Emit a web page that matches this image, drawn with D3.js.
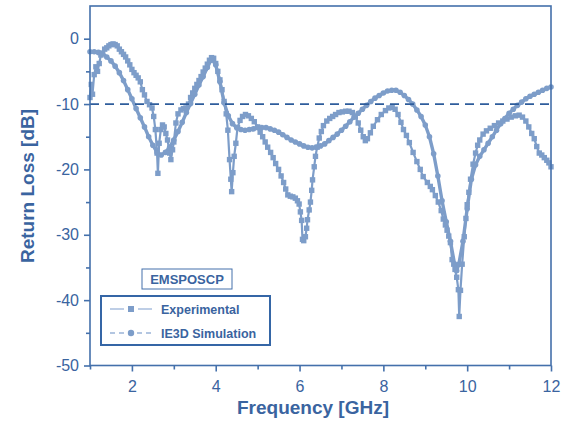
<!DOCTYPE html>
<html>
<head>
<meta charset="utf-8">
<script src="https://cdn.jsdelivr.net/npm/d3@7"></script>
<style>
body { margin: 0; background: #fff; }
text { font-family: "Liberation Sans", Arial, sans-serif; }
</style>
</head>
<body>
<div id="chart"></div>
<script>
// IE3D simulation (circles)
const freqSim = [1.0,1.1,1.2,1.3,1.4,1.5,1.6,1.7,1.8,1.9,2.0,2.1,2.2,2.3,2.4,2.5,2.6,2.7,2.8,2.9,
  3.0,3.1,3.2,3.3,3.4,3.5,3.6,3.7,3.8,3.9,4.0,4.1,4.2,4.3,4.4,4.5,4.6,4.7,4.8,4.9,
  5.0,5.1,5.2,5.3,5.4,5.5,5.6,5.7,5.8,5.9,6.0,6.1,6.2,6.3,6.4,6.5,6.6,6.7,6.8,6.9,
  7.0,7.1,7.2,7.3,7.4,7.5,7.6,7.7,7.8,7.9,8.0,8.1,8.2,8.3,8.4,8.5,8.6,8.7,8.8,8.9,
  9.0,9.1,9.2,9.3,9.4,9.5,9.6,9.7,9.75,9.8,9.9,10.0,10.1,10.2,10.3,10.4,10.5,10.6,10.7,10.8,
  10.9,11.0,11.1,11.2,11.3,11.4,11.5,11.6,11.7,11.8,11.9,12.0];
const lossSim = [-2.0,-2.0,-2.1,-2.3,-2.8,-3.4,-4.2,-5.2,-6.4,-7.8,-9.2,-10.7,-12.1,-13.5,-15.0,-16.3,-17.4,-17.8,-17.4,-16.6,
  -15.5,-14.2,-12.8,-11.3,-9.9,-8.5,-7.1,-5.8,-4.4,-3.1,-4.0,-6.6,-9.8,-11.8,-13.0,-13.6,-13.9,-14.0,-13.9,-13.8,
  -13.6,-13.6,-13.6,-13.8,-14.0,-14.3,-14.7,-15.1,-15.5,-15.8,-16.1,-16.4,-16.6,-16.7,-16.6,-16.4,-16.1,-15.6,-15.1,-14.6,
  -14.0,-13.4,-12.7,-12.0,-11.4,-10.8,-10.2,-9.6,-9.1,-8.7,-8.3,-8.0,-7.9,-7.9,-8.2,-8.7,-9.3,-10.0,-10.9,-11.9,
  -13.2,-15.0,-17.6,-21.0,-24.8,-28.0,-31.0,-34.5,-35.5,-34.5,-31.0,-26.0,-21.5,-19.3,-18.0,-17.0,-16.0,-15.0,-14.0,-13.0,
  -12.2,-11.4,-10.8,-10.2,-9.7,-9.2,-8.8,-8.5,-8.2,-7.9,-7.6,-7.4];

// Experimental (squares)
const freqExp = [1.0,1.03,1.06,1.1,1.14,1.18,1.22,1.26,1.3,1.35,1.4,1.45,1.5,1.55,1.6,1.65,1.7,1.75,1.8,1.85,
  1.9,1.95,2.0,2.05,2.1,2.15,2.2,2.25,2.3,2.36,2.42,2.48,2.52,2.56,2.6,2.62,2.65,2.69,2.73,2.77,
  2.81,2.85,2.9,2.93,2.97,3.0,3.05,3.1,3.17,3.23,3.29,3.35,3.4,3.45,3.5,3.55,3.6,3.65,3.7,3.75,
  3.8,3.85,3.9,3.95,4.0,4.05,4.1,4.15,4.2,4.25,4.29,4.33,4.36,4.38,4.41,4.44,4.48,4.52,4.58,4.64,
  4.71,4.78,4.85,4.92,5.0,5.06,5.12,5.18,5.24,5.31,5.37,5.43,5.5,5.56,5.62,5.67,5.72,5.78,5.84,5.9,
  5.95,5.99,6.02,6.05,6.07,6.1,6.14,6.17,6.19,6.23,6.26,6.29,6.31,6.35,6.38,6.42,6.47,6.52,6.57,6.65,
  6.72,6.79,6.86,6.94,7.02,7.1,7.18,7.26,7.33,7.4,7.46,7.52,7.57,7.62,7.69,7.76,7.86,7.95,8.05,8.13,
  8.21,8.28,8.35,8.42,8.48,8.55,8.62,8.71,8.8,8.88,8.95,9.05,9.12,9.17,9.24,9.31,9.38,9.43,9.48,9.52,
  9.56,9.6,9.64,9.68,9.71,9.75,9.79,9.81,9.84,9.88,9.93,9.97,10.0,10.04,10.08,10.14,10.2,10.25,10.3,10.38,
  10.46,10.55,10.65,10.75,10.85,10.95,11.05,11.15,11.24,11.32,11.4,11.47,11.54,11.6,11.66,11.72,11.78,11.84,11.9,11.95,
  12.0];
const lossExp = [-9.0,-7.0,-8.5,-5.5,-4.3,-5.0,-3.8,-2.5,-2.2,-1.6,-1.4,-1.1,-0.9,-0.8,-0.9,-1.1,-1.6,-2.0,-2.4,-2.8,
  -3.4,-4.0,-4.7,-5.2,-5.6,-6.0,-6.6,-7.8,-8.6,-9.6,-10.1,-10.6,-11.9,-13.9,-17.5,-20.6,-16.0,-13.9,-13.2,-13.5,
  -14.5,-15.5,-17.5,-18.5,-17.0,-15.8,-12.9,-11.5,-10.9,-10.7,-10.6,-10.0,-9.0,-8.3,-7.6,-7.0,-6.4,-5.8,-5.1,-4.5,
  -3.9,-3.3,-2.9,-3.0,-3.8,-5.0,-6.3,-7.8,-9.6,-11.5,-14.0,-18.5,-21.5,-23.4,-20.5,-18.0,-16.0,-13.6,-12.5,-11.9,
  -11.6,-11.8,-12.2,-12.7,-13.5,-14.3,-15.0,-15.8,-16.6,-17.4,-18.2,-19.1,-20.0,-21.0,-22.0,-23.0,-23.9,-24.1,-24.2,-24.4,
  -24.8,-25.3,-26.5,-27.8,-30.7,-30.9,-30.3,-29.0,-27.7,-26.2,-25.0,-23.2,-21.6,-19.6,-18.0,-16.6,-15.2,-14.2,-13.3,-12.6,
  -12.2,-11.9,-11.6,-11.3,-11.2,-11.1,-11.1,-11.3,-11.9,-12.9,-14.0,-15.0,-15.6,-15.3,-14.4,-13.4,-12.4,-11.6,-11.0,-10.6,
  -10.5,-10.8,-11.6,-12.8,-13.9,-14.8,-15.9,-17.4,-18.8,-20.0,-21.1,-22.0,-22.6,-23.1,-24.0,-25.0,-26.3,-27.6,-28.5,-29.3,
  -30.2,-31.2,-33.8,-34.5,-35.3,-36.5,-38.4,-42.5,-38.5,-34.5,-30.3,-27.5,-25.4,-23.5,-21.5,-19.2,-17.5,-16.3,-15.5,-14.6,
  -14.1,-13.7,-13.3,-12.9,-12.6,-12.3,-12.0,-11.8,-11.7,-12.0,-12.6,-13.5,-14.5,-15.3,-16.5,-17.5,-17.8,-18.2,-18.6,-19.0,
  -19.6];

const xTicks = [2, 4, 6, 8, 10, 12];
const xMinor = [1, 3, 5, 7, 9, 11];
const yTicks = [0, -10, -20, -30, -40, -50];
const yMinor = [-5, -15, -25, -35, -45];
const refLevel = -10;
const legendTitle = 'EMSPOSCP';
const seriesNames = ['Experimental', 'IE3D Simulation'];

const width = 567, height = 421;
const axisColor = '#4470ab';
const textColor = '#3a64a0';
const curveColor = '#7d9dc9';

const x = d3.scaleLinear().domain([1, 12]).range([90, 551]);
const y = d3.scaleLinear().domain([-50, 5]).range([365.5, 6]);

const svg = d3.select('#chart').append('svg')
  .attr('width', width)
  .attr('height', height);

const sim = freqSim.map((f, i) => [f, lossSim[i]]);
const exp = freqExp.map((f, i) => [f, lossExp[i]]);

const line = d3.line().x(d => x(d[0])).y(d => y(d[1]));

const curves = svg.append('g');

// simulation: dense circles
curves.append('path')
  .datum(sim)
  .attr('d', line)
  .attr('fill', 'none')
  .attr('stroke', curveColor)
  .attr('stroke-width', 3.4)
  .attr('stroke-linejoin', 'round');

curves.selectAll('.sim')
  .data(sim)
  .enter()
  .append('circle')
  .attr('class', 'sim')
  .attr('cx', d => x(d[0]))
  .attr('cy', d => y(d[1]))
  .attr('r', 2.8)
  .attr('fill', curveColor);

// experimental: squares + line
curves.append('path')
  .datum(exp)
  .attr('d', line)
  .attr('fill', 'none')
  .attr('stroke', curveColor)
  .attr('stroke-width', 2.2)
  .attr('stroke-linejoin', 'round');

curves.selectAll('.exp')
  .data(exp)
  .enter()
  .append('rect')
  .attr('class', 'exp')
  .attr('x', d => x(d[0]) - 2.7)
  .attr('y', d => y(d[1]) - 2.7)
  .attr('width', 5.4)
  .attr('height', 5.4)
  .attr('fill', curveColor);

// -10 dB reference line
svg.append('line')
  .attr('x1', x(1)).attr('x2', x(12))
  .attr('y1', y(refLevel)).attr('y2', y(refLevel))
  .attr('stroke', '#2f5d9c')
  .attr('stroke-width', 1.8)
  .attr('stroke-dasharray', '9,6');

// frame
svg.append('rect')
  .attr('x', x(1)).attr('y', y(5))
  .attr('width', x(12) - x(1))
  .attr('height', y(-50) - y(5))
  .attr('fill', 'none')
  .attr('stroke', axisColor)
  .attr('stroke-width', 1.6);

// axes
const fmt = d => String(d);

const xAxis = svg.append('g')
  .attr('transform', `translate(0,${y(-50)})`)
  .call(d3.axisBottom(x).tickValues(xTicks).tickSize(6).tickPadding(5).tickFormat(fmt));

const xAxisMinor = svg.append('g')
  .attr('transform', `translate(0,${y(-50)})`)
  .call(d3.axisBottom(x).tickValues(xMinor).tickSize(4).tickFormat(''));

const yAxis = svg.append('g')
  .attr('transform', `translate(${x(1)},0)`)
  .call(d3.axisLeft(y).tickValues(yTicks).tickSize(6).tickPadding(5).tickFormat(fmt));

const yAxisMinor = svg.append('g')
  .attr('transform', `translate(${x(1)},0)`)
  .call(d3.axisLeft(y).tickValues(yMinor).tickSize(4).tickFormat(''));

[xAxis, xAxisMinor, yAxis, yAxisMinor].forEach(g => {
  g.select('.domain').remove();
  g.selectAll('line').attr('stroke', axisColor).attr('stroke-width', 1.6);
  g.selectAll('text')
    .attr('fill', textColor)
    .style('font-size', '16px')
    .style('font-family', '"Liberation Sans", Arial, sans-serif');
});
xAxis.selectAll('text').attr('dy', '0.95em');

// axis titles
svg.append('text')
  .attr('x', 313).attr('y', 414)
  .attr('text-anchor', 'middle')
  .attr('fill', textColor)
  .style('font-size', '19px')
  .style('font-weight', 'bold')
  .text('Frequency [GHz]');

svg.append('text')
  .attr('transform', 'translate(34,186) rotate(-90)')
  .attr('text-anchor', 'middle')
  .attr('fill', textColor)
  .style('font-size', '19px')
  .style('font-weight', 'bold')
  .text('Return Loss [dB]');

// legend
svg.append('rect')
  .attr('x', 142).attr('y', 269)
  .attr('width', 90).attr('height', 20)
  .attr('fill', '#fff')
  .attr('stroke', axisColor)
  .attr('stroke-width', 1);

svg.append('text')
  .attr('x', 187).attr('y', 284)
  .attr('text-anchor', 'middle')
  .attr('fill', textColor)
  .style('font-size', '13px')
  .style('font-weight', 'bold')
  .text(legendTitle);

const legend = svg.append('g');

legend.append('rect')
  .attr('x', 101).attr('y', 296)
  .attr('width', 169).attr('height', 49)
  .attr('fill', '#fff')
  .attr('stroke', '#3566a6')
  .attr('stroke-width', 2);

seriesNames.forEach((name, i) => {
  const ly = 309 + i * 24;
  if (i === 0) {
    legend.append('line')
      .attr('x1', 110).attr('x2', 124).attr('y1', ly).attr('y2', ly)
      .attr('stroke', '#9bb4d8').attr('stroke-width', 1.3);
    legend.append('line')
      .attr('x1', 138).attr('x2', 152).attr('y1', ly).attr('y2', ly)
      .attr('stroke', '#9bb4d8').attr('stroke-width', 1.3);
    legend.append('rect')
      .attr('x', 128).attr('y', ly - 3)
      .attr('width', 6).attr('height', 6)
      .attr('fill', curveColor);
  } else {
    legend.append('line')
      .attr('x1', 110).attr('x2', 152).attr('y1', ly).attr('y2', ly)
      .attr('stroke', '#9bb4d8').attr('stroke-width', 1.3)
      .attr('stroke-dasharray', '5,4');
    legend.append('circle')
      .attr('cx', 131).attr('cy', ly)
      .attr('r', 3.2)
      .attr('fill', curveColor);
  }
  legend.append('text')
    .attr('x', 161).attr('y', ly + 4.5)
    .attr('fill', textColor)
    .style('font-size', '12.5px')
    .style('font-weight', 'bold')
    .text(name);
});
</script>
</body>
</html>
